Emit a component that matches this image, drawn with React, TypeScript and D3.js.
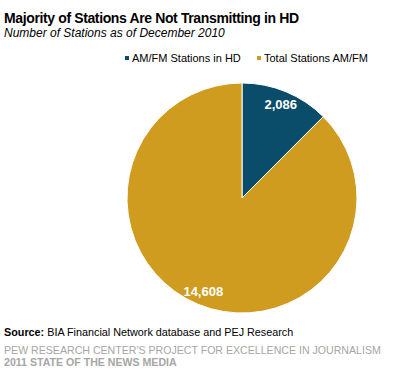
import { useRef, useEffect } from "react";
import * as d3 from "d3";

const categories = ["AM/FM Stations in HD", "Total Stations AM/FM"];
const values = [2086, 14608];
const colors = ["#0a4d6b", "#cf9c1f"];

const App = () => {
  const ref = useRef<SVGSVGElement>(null);

  useEffect(() => {
    const svg = d3.select(ref.current);
    svg.selectAll("*").remove();
    const font = "'Liberation Sans', Arial, sans-serif";

    svg.append("rect").attr("width", 397).attr("height", 371).attr("fill", "#fff");

    svg
      .append("text")
      .attr("x", 4)
      .attr("y", 23)
      .attr("font-family", font)
      .attr("font-size", 14)
      .attr("font-weight", "bold")
      .attr("fill", "#000")
      .attr("textLength", 295)
      .attr("lengthAdjust", "spacing")
      .text("Majority of Stations Are Not Transmitting  in HD");

    svg
      .append("text")
      .attr("x", 4)
      .attr("y", 37)
      .attr("font-family", font)
      .attr("font-size", 12)
      .attr("font-style", "italic")
      .attr("fill", "#000")
      .text("Number of Stations as of December 2010");

    // legend
    const legendX = [125, 257];
    const legend = svg
      .selectAll(".leg")
      .data(categories)
      .enter()
      .append("g")
      .attr("transform", (_d, i) => `translate(${legendX[i]}, 0)`);
    legend
      .append("rect")
      .attr("x", 0)
      .attr("y", 56)
      .attr("width", 4)
      .attr("height", 4)
      .attr("fill", (_d, i) => colors[i]);
    legend
      .append("text")
      .attr("x", 7)
      .attr("y", 62)
      .attr("font-family", font)
      .attr("font-size", 11)
      .attr("fill", "#000")
      .text(d => d);

    const cx = 242;
    const cy = 198;
    const r = 115;

    const pie = d3
      .pie<number>()
      .sort(null)
      .value(d => d);
    const arcs = pie(values);
    const arc = d3.arc<d3.PieArcDatum<number>>().innerRadius(0).outerRadius(r);
    const labelArc = d3
      .arc<d3.PieArcDatum<number>>()
      .innerRadius(r * 0.88)
      .outerRadius(r * 0.88);

    const g = svg.append("g").attr("transform", `translate(${cx}, ${cy})`);
    g.selectAll("path")
      .data(arcs)
      .enter()
      .append("path")
      .attr("d", arc)
      .attr("fill", (_d, i) => colors[i])
      .attr("stroke", "#fff")
      .attr("stroke-width", 1);

    g.selectAll(".lbl")
      .data(arcs)
      .enter()
      .append("text")
      .attr("transform", d => `translate(${labelArc.centroid(d)})`)
      .attr("dy", "0.35em")
      .attr("text-anchor", "middle")
      .attr("font-family", font)
      .attr("font-size", 13)
      .attr("font-weight", "bold")
      .attr("fill", "#fff")
      .text(d => d3.format(",")(d.data));

    const src = svg
      .append("text")
      .attr("x", 4)
      .attr("y", 336)
      .attr("font-family", font)
      .attr("font-size", 10.8)
      .attr("fill", "#000");
    src.append("tspan").attr("font-weight", "bold").text("Source:");
    src.append("tspan").text(" BIA Financial Network database and PEJ Research");

    svg
      .append("text")
      .attr("x", 4)
      .attr("y", 354)
      .attr("font-family", font)
      .attr("font-size", 10.6)
      .attr("fill", "#a6a6a6")
      .text("PEW RESEARCH CENTER'S PROJECT FOR EXCELLENCE IN JOURNALISM");

    svg
      .append("text")
      .attr("x", 4)
      .attr("y", 366)
      .attr("font-family", font)
      .attr("font-size", 10.6)
      .attr("font-weight", "bold")
      .attr("fill", "#a6a6a6")
      .text("2011 STATE OF THE NEWS MEDIA");
  }, []);

  return (
    <svg
      ref={ref}
      width={397}
      height={371}
      style={{ position: "absolute", left: 0, top: 0 }}
    />
  );
};

export default App;
